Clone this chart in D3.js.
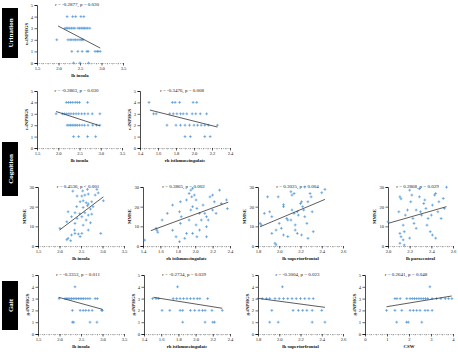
<!DOCTYPE html>
<html><head><meta charset="utf-8">
<script src="https://cdn.jsdelivr.net/npm/d3@7"></script>
<style>
body{margin:0;background:#fff}
svg{display:block}
text{font-family:"Liberation Serif","DejaVu Serif",serif}
</style></head>
<body><svg id="c" width="458" height="352"></svg>
<script>
// ---------- data ----------
const groups = ["Urination","Cognition","Gait"];
const titles = [
 "r = -0.2877, p = 0.030",
 "r = -0.2863, p = 0.030","r = -0.3476, p = 0.008",
 "r = 0.4536, p < 0.001","r = 0.3865, p = 0.002","r = 0.3025, p = 0.004","r = 0.2868, p = 0.029",
 "r = -0.3353, p = 0.011","r = -0.2734, p = 0.039","r = -0.3004, p = 0.023","r = 0.2641, p = 0.048"];
const xLabels = ["lh insula","lh insula","rh isthmuscingulate","lh insula","rh isthmuscingulate","lh superiorfrontal","lh paracentral","lh insula","rh isthmuscingulate","lh superiorfrontal","CSW"];
const yLabels = ["u-iNPHGS","c-iNPHGS","c-iNPHGS","MMSE","MMSE","MMSE","MMSE","g-iNPHGS","g-iNPHGS","g-iNPHGS","g-iNPHGS"];
const ticksInsula = [1.5,2.0,2.5,3.0,3.5];
const ticksIsthmus = [1.4,1.6,1.8,2.0,2.2,2.4];
const ticksSupfront = [1.8,2.0,2.2,2.4,2.6];
const ticksParacentral = [2.0,2.2,2.4,2.6];
const ticksCSW = [0,1,2,3,4];
const ticksGS = [0,1,2,3,4,5];
const ticksMMSE = [0,10,20,30];

// urination vs lh insula
const uInsX = [2.20,2.33,2.40,2.52,2.59, 2.15,2.19,2.22,2.26,2.30,2.34,2.38,2.45,2.49,2.53,2.57,2.60,2.64,2.68,2.73, 1.96,2.22,2.27,2.31,2.36,2.40,2.45,2.50,2.54,2.57, 2.31,2.45,2.55,2.66,2.69,2.85,2.90,2.92,2.97, 2.35,2.50,2.70];
const uInsY = [4,4,4,4,4, 3,3,3,3,3,3,3,3,3,3,3,3,3,3,3, 2,2,2,2,2,2,2,2,2,2, 1,1,1,1,1,1,1,1,1, 0,0,0];
const uInsFit = [[1.99,3.19],[2.97,1.29]];

// cognition (iNPHGS) vs lh insula
const cInsX = [2.19,2.24,2.29,2.34,2.40,2.45,2.50,2.69, 1.95,2.10,2.15,2.20,2.25,2.30,2.36,2.42,2.48,2.55,2.62,2.70,2.80,2.98, 2.21,2.25,2.29,2.33,2.37,2.41,2.45,2.50,2.56,2.62,2.70,2.81,2.90,2.98, 2.36,2.48,2.69,2.88];
const cInsY = [4,4,4,4,4,4,4,4, 3,3,3,3,3,3,3,3,3,3,3,3,3,3, 2,2,2,2,2,2,2,2,2,2,2,2,2,2, 1,1,1,1];
const cInsFit = [[1.95,3.2],[2.98,1.95]];

// cognition (iNPHGS) vs rh isthmuscingulate
const cIstX = [1.50,1.76,1.79,1.84,1.99,2.03, 1.55,1.58,1.73,1.77,1.81,1.85,1.88,1.92,1.98,2.02,2.07,2.14, 1.70,1.80,1.85,1.90,1.95,2.00,2.04,2.08,2.12,2.16,2.26, 1.90,1.96,2.12,2.18];
const cIstY = [4,4,4,4,4,4, 3,3,3,3,3,3,3,3,3,3,3,3, 2,2,2,2,2,2,2,2,2,2,2, 1,1,1,1];
const cIstFit = [[1.51,3.33],[2.26,1.84]];

// MMSE vs lh insula
const mInsX = [2.31,2.54,2.65,2.87,2.90,2.41,2.52,2.59,2.67,2.83,2.48,2.55,2.62,2.67,2.75,3.02,2.40,2.55,2.65,2.72,2.78,2.20,2.36,2.47,2.59,2.67,2.75,2.28,2.41,2.52,2.62,2.17,2.36,2.55,2.72,2.01,2.35,2.67,2.36,2.44,2.52,2.28,2.48,2.96,2.20,2.26,2.17];
const mInsY = [27.9,28,28.8,28.8,27,25.4,25.4,25.9,26.4,25.9,22.5,23,22,21.4,22.5,23,20,19.6,20.5,18.8,20,17.4,16.9,16.4,16.9,15.7,16.2,14.9,14,14.9,13.2,12.3,11.5,10.6,11.8,9,8.1,8.1,6.4,6.1,6.4,5.6,4.8,6.4,3.9,2.7,3.2];
const mInsFit = [[2.0,8.1],[3.02,25]];

// MMSE vs rh isthmuscingulate
const mIstX = [1.42,1.55,1.56,1.57,1.74,1.74,1.82,1.83,1.78,1.82,1.88,1.90,1.93,1.95,1.97,1.96,1.90,1.99,2.01,1.97,2.02,2.05,2.09,2.11,2.13,2.07,2.15,2.17,2.20,2.22,2.28,2.30,2.36,2.37,2.20,2.24,1.93,1.83,2.01,2.05,1.97,2.02,1.68,1.62,1.84,1.95,2.13,2.13];
const mIstY = [3,9,8,7,8,20.8,17.4,22.5,4.7,2.2,3.9,6.4,26.7,28.4,29.3,25,23.4,25.9,23.4,20,19.1,16.6,20.8,16.6,14.9,13.2,13.2,25,25.9,22.5,28.4,21.6,23.4,19,18.3,16.6,13.2,11.5,10.7,8.1,6.4,4.7,16.6,13.2,14.9,18.3,9.8,4.7];
const mIstFit = [[1.49,7.8],[2.38,22.3]];

// MMSE vs lh superiorfrontal
const mSfX = [1.82,1.83,1.89,1.91,1.93,1.96,1.97,1.97,1.99,2.04,2.04,2.07,2.08,2.04,2.08,2.11,2.12,2.14,2.12,2.14,2.15,2.17,2.18,2.15,2.17,2.20,2.21,2.22,2.23,2.24,2.24,2.26,2.21,2.27,2.29,2.30,2.31,2.32,2.27,2.40,2.43,2.00,1.86,1.93,2.11,2.02];
const mSfY = [11.5,10.7,25,17.4,6.4,1.4,0.6,8.1,25,20,21,14,13.2,5.6,4.8,27.6,25.9,26.7,18.3,16.6,10.7,17.4,15.7,8.1,6.4,21.6,22.5,20,18.3,30,14.9,11.5,5.6,22.5,26.7,25,17.4,7.3,3.9,27.1,28.8,11.5,16.6,14.9,13.2,9];
const mSfFit = [[1.82,9.8],[2.43,23.7]];

// MMSE vs lh paracentral
const mPcX = [2.00,2.11,2.12,2.10,2.11,2.12,2.14,2.11,2.15,2.16,2.18,2.20,2.21,2.22,2.23,2.24,2.26,2.20,2.29,2.29,2.30,2.31,2.33,2.34,2.35,2.36,2.37,2.39,2.40,2.41,2.43,2.44,2.41,2.44,2.46,2.47,2.49,2.51,2.54,2.52,2.26,2.15,2.14];
const mPcY = [12.3,25,24,17.4,6.4,4.7,3.1,1.4,7.3,15.7,18.3,28.4,22.5,25.9,14,11.5,9,4,25,29.1,17.4,15.7,21.6,23.4,19.1,10.6,14,7.3,15.7,20.8,25.9,26.7,5.6,4,17.4,22.5,14,24.2,29.9,19.1,18.3,0.5,10.6];
const mPcFit = [[2.0,11.5],[2.54,20]];

// gait vs lh insula
const gInsX = [2.36, 1.99,2.13,2.17,2.20,2.24,2.28,2.32,2.36,2.40,2.44,2.48,2.52,2.56,2.61,2.66,2.71,2.83,2.88, 2.30,2.48,2.55,2.61,2.68,2.76,2.98,3.00, 2.30,2.33,2.71,2.87];
const gInsY = [4, 3,3,3,3,3,3,3,3,3,3,3,3,3,3,3,3,3,3, 2,2,2,2,2,2,2,2, 1,1,1,1];
const gInsFit = [[1.98,3.11],[3.0,2.09]];

// gait vs rh isthmuscingulate
const gIstX = [1.79, 1.50,1.54,1.57,1.74,1.78,1.82,1.86,1.90,1.94,1.98,2.02,2.05,2.14, 1.61,1.70,1.82,1.85,1.94,1.99,2.04,2.08,2.11,2.19,2.31, 1.85,2.11,2.20,2.22];
const gIstY = [4, 3,3,3,3,3,3,3,3,3,3,3,3,3, 2,2,2,2,2,2,2,2,2,2,2, 1,1,1,1];
const gIstFit = [[1.51,3.11],[2.31,2.18]];

// gait vs lh superiorfrontal
const gSfX = [2.03, 1.80,1.84,1.88,1.91,1.96,2.00,2.04,2.08,2.12,2.16,2.20,2.24,2.28,2.32, 1.93,2.13,2.18,2.22,2.26,2.31,2.40, 1.91,1.99,2.31,2.43];
const gSfY = [4, 3,3,3,3,3,3,3,3,3,3,3,3,3,3, 2,2,2,2,2,2,2, 1,1,1,1];
const gSfFit = [[1.80,3.02],[2.43,2.26]];

// gait vs CSW
const gCswX = [2.95, 1.36,1.45,1.60,1.90,2.05,2.15,2.25,2.35,2.45,2.55,2.65,2.75,2.85,3.05,3.25,3.45,3.65,3.80,3.95, 0.98,1.36,1.67,2.05,2.20,2.35,2.50,2.73,2.86,3.05, 1.44,1.89,1.97,2.58];
const gCswY = [4, 3,3,3,3,3,3,3,3,3,3,3,3,3,3,3,3,3,3,3, 2,2,2,2,2,2,2,2,2,2, 1,1,1,1];
const gCswFit = [[0.98,2.31],[3.94,3.22]];

// ---------- layout ----------
const svg = d3.select("#c");
const BLUE = "#4b93d6";
const rows = [{t:5,b:63},{t:91,b:148},{t:187,b:246},{t:275,b:334}];
const panels = [
 {r:0,l:37,w:86, x:uInsX,y:uInsY,fit:uInsFit,xt:ticksInsula,yt:ticksGS},
 {r:1,l:37,w:85, x:cInsX,y:cInsY,fit:cInsFit,xt:ticksInsula,yt:ticksGS},
 {r:1,l:140,w:90, x:cIstX,y:cIstY,fit:cIstFit,xt:ticksIsthmus,yt:ticksGS},
 {r:2,l:38,w:86, x:mInsX,y:mInsY,fit:mInsFit,xt:ticksInsula,yt:ticksMMSE},
 {r:2,l:143,w:87, x:mIstX,y:mIstY,fit:mIstFit,xt:ticksIsthmus,yt:ticksMMSE},
 {r:2,l:258,w:85, x:mSfX,y:mSfY,fit:mSfFit,xt:ticksSupfront,yt:ticksMMSE},
 {r:2,l:388,w:65, x:mPcX,y:mPcY,fit:mPcFit,xt:ticksParacentral,yt:ticksMMSE},
 {r:3,l:38,w:86, x:gInsX,y:gInsY,fit:gInsFit,xt:ticksInsula,yt:ticksGS},
 {r:3,l:144,w:86, x:gIstX,y:gIstY,fit:gIstFit,xt:ticksIsthmus,yt:ticksGS},
 {r:3,l:258,w:85, x:gSfX,y:gSfY,fit:gSfFit,xt:ticksSupfront,yt:ticksGS},
 {r:3,l:365,w:88, x:gCswX,y:gCswY,fit:gCswFit,xt:ticksCSW,yt:ticksGS}
];

panels.forEach((p,i)=>{
  const row = rows[p.r];
  const xs = d3.scaleLinear().domain(d3.extent(p.xt)).range([p.l,p.l+p.w]);
  const ys = d3.scaleLinear().domain(d3.extent(p.yt)).range([row.b,row.t]);
  const g = svg.append("g");
  // x axis: dotted line with minor ticks
  const minor = d3.range(0,  p.w+0.01, p.w/((p.xt.length-1)*4)).map(d=>xs.invert(p.l+d));
  const gx = g.append("g").attr("transform",`translate(0,${row.b})`)
    .call(d3.axisBottom(xs).tickValues(minor).tickSize(1.5).tickFormat(""));
  gx.select(".domain").attr("stroke","#666").attr("stroke-width",0.6).attr("stroke-dasharray","1,1.2");
  gx.selectAll(".tick line").attr("stroke","#777").attr("stroke-width",0.5);
  const gx2 = g.append("g").attr("transform",`translate(0,${row.b})`)
    .call(d3.axisBottom(xs).tickValues(p.xt).tickSize(2.5).tickPadding(1)
      .tickFormat(d=> Number.isInteger(d) && p.xt===ticksCSW ? d3.format("d")(d) : d3.format(".1f")(d)));
  gx2.select(".domain").remove();
  gx2.selectAll(".tick line").attr("stroke","#000").attr("stroke-width",0.6);
  gx2.selectAll(".tick text").attr("font-size",4.6).attr("fill","#222").attr("font-family","Liberation Serif");
  // y axis
  const gy = g.append("g").attr("transform",`translate(${p.l},0)`)
    .call(d3.axisLeft(ys).tickValues(p.yt).tickSize(2.5).tickPadding(1.5).tickFormat(d3.format("d")));
  gy.select(".domain").attr("stroke","#000").attr("stroke-width",0.7);
  gy.selectAll(".tick line").attr("stroke","#000").attr("stroke-width",0.6);
  gy.selectAll(".tick text").attr("font-size",4.6).attr("fill","#222").attr("font-family","Liberation Serif");
  // points
  const pts = p.x.map((v,k)=>[v,p.y[k]]);
  g.append("g").selectAll("path").data(pts).join("path")
    .attr("transform",d=>`translate(${xs(d[0])},${ys(d[1])})`)
    .attr("d","M-1.4,0H1.4M0,-1.4V1.4")
    .attr("stroke",BLUE).attr("stroke-width",0.7).attr("fill","none");
  // fit line
  g.append("line")
    .attr("x1",xs(p.fit[0][0])).attr("y1",ys(p.fit[0][1]))
    .attr("x2",xs(p.fit[1][0])).attr("y2",ys(p.fit[1][1]))
    .attr("stroke","#333").attr("stroke-width",0.8);
  // title
  g.append("text").attr("x",p.l+p.w/2-3).attr("y",row.t+1)
    .attr("text-anchor","middle").attr("font-size",5).attr("fill","#222").text(titles[i]);
  // x label
  g.append("text").attr("x",p.l+p.w/2).attr("y",row.b+14)
    .attr("text-anchor","middle").attr("font-size",4.8).attr("font-weight","bold").attr("fill","#111").text(xLabels[i]);
  // y label
  const yoff = p.yt===ticksMMSE ? 12 : 9;
  g.append("text").attr("transform",`translate(${p.l-yoff},${(row.t+row.b)/2}) rotate(-90)`)
    .attr("text-anchor","middle").attr("font-size",4.8).attr("font-weight","bold").attr("fill","#111").text(yLabels[i]);
});

// group labels
const boxes = [{t:8,b:58},{t:142,b:196},{t:281,b:330}];
groups.forEach((name,i)=>{
  const b = boxes[i];
  svg.append("rect").attr("x",2).attr("y",b.t).attr("width",16).attr("height",b.b-b.t).attr("fill","#000");
  svg.append("text").attr("transform",`translate(12.5,${(b.t+b.b)/2}) rotate(-90)`)
    .attr("text-anchor","middle").attr("font-size",7).attr("font-weight","bold").attr("fill","#fff").text(name);
});
</script></body></html>
